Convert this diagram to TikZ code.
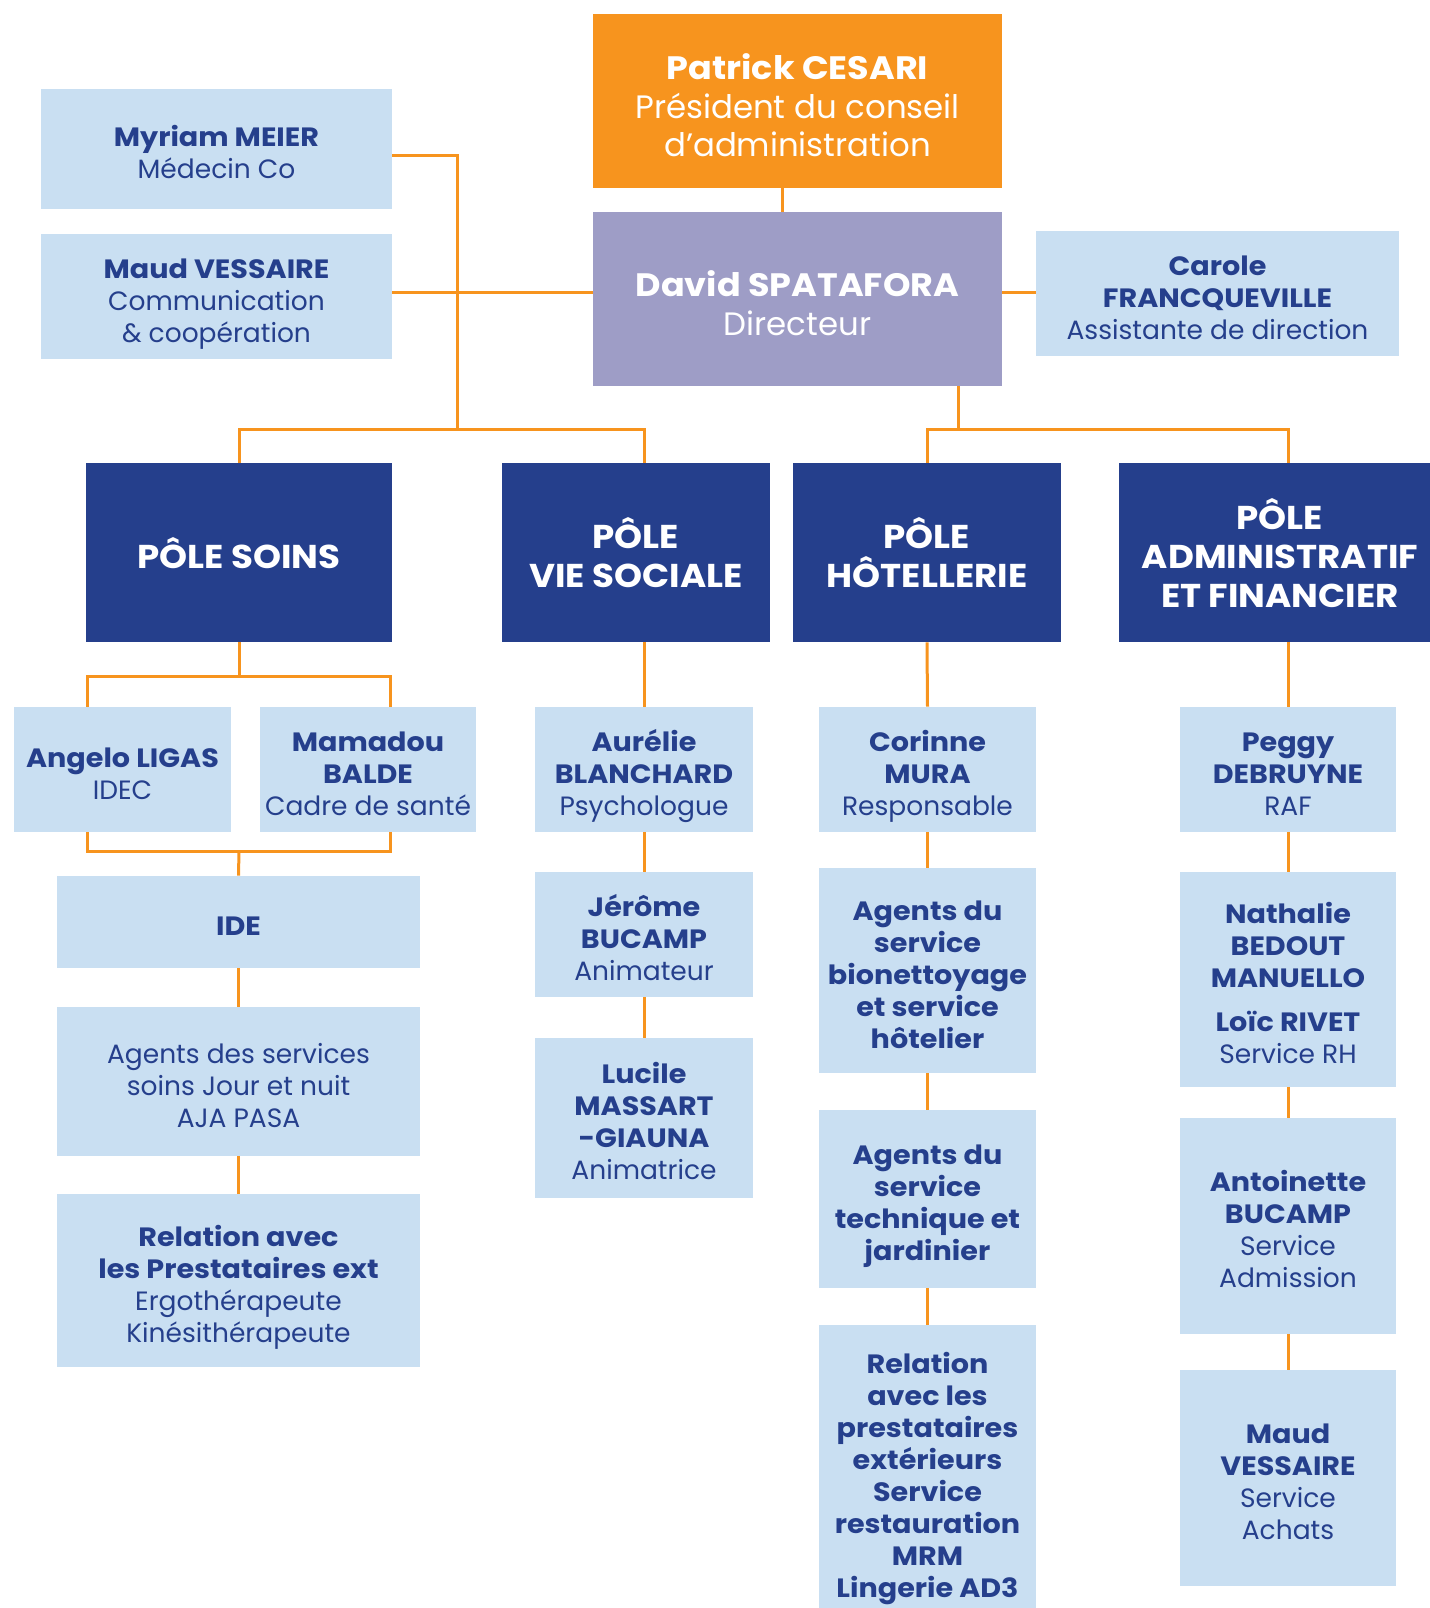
\documentclass[tikz,border=0pt]{standalone}
\usepackage{fontspec}
\setmainfont{Poppins}[BoldFeatures={FakeStretch=1.08}]
\definecolor{orgline}{HTML}{F7941E}
\definecolor{navy}{HTML}{253F8C}
\definecolor{paleblue}{HTML}{C9DFF2}
\definecolor{lilac}{HTML}{9E9DC6}
\newcommand\tp{\rule{0pt}{1.05em}}

\tikzset{
  sz/.style 2 args={minimum width=#1*0.5pt, minimum height=#2*0.5pt},
  box/.style={inner sep=0pt, align=center, text depth=0pt},
  pres/.style={box, fill=orgline, text=white, font=\fontsize{16.2}{19.3}\selectfont},
  dirbox/.style={box, fill=lilac, text=white, font=\fontsize{16.2}{19.3}\selectfont},
  staff/.style={box, fill=paleblue, text=navy, font=\fontsize{13.25}{16}\selectfont\bfseries},
  pole/.style={box, fill=navy, text=white, font=\fontsize{16.5}{19.5}\selectfont\bfseries},
  link/.style={draw=orgline, line width=1.5pt}
}

\begin{document}
\begin{tikzpicture}[x=0.5pt, y=-0.5pt]
  \useasboundingbox (0,0) rectangle (1430,1608);

  % direction
  \node[pres, sz={409}{174}] (cesari) at (797.5,101) {\tp\bfseries Patrick CESARI\\Président du conseil\\d’administration};
  \node[dirbox, sz={409}{174}] (spatafora) at (797.5,299) {\tp\bfseries David SPATAFORA\\Directeur};
  \node[staff, sz={351}{120}] (meier) at (216.5,149) {\tp Myriam MEIER\\\mdseries Médecin Co};
  \node[staff, sz={351}{125}] (vessaire) at (216.5,296.5) {\tp Maud VESSAIRE\\\mdseries Communication\\\mdseries \& coopération};
  \node[staff, sz={363}{125}] (francq) at (1217.5,293.5) {\tp Carole\\FRANCQUEVILLE\\\mdseries Assistante de direction};

  % poles
  \node[pole, sz={306}{179}] (soins) at (239,552.5) {PÔLE SOINS};
  \node[pole, sz={268}{179}] (vie) at (636,552.5) {PÔLE\\VIE SOCIALE};
  \node[pole, sz={268}{179}] (hotel) at (927,552.5) {PÔLE\\HÔTELLERIE};
  \node[pole, sz={322}{179}] (admin) at (1280,552.5) {PÔLE\\ADMINISTRATIF\\ET FINANCIER};

  % pole soins
  \node[staff, sz={217}{125}] (ligas) at (122.5,769.5) {\tp Angelo LIGAS\\\mdseries IDEC};
  \node[staff, sz={216}{125}] (balde) at (368,769.5) {\tp Mamadou\\BALDE\\\mdseries Cadre de santé};
  \node[staff, sz={363}{92}] (ide) at (238.5,922) {\tp IDE};
  \node[staff, sz={363}{149}] (agsoins) at (238.5,1081.5) {\tp\mdseries Agents des services\\\mdseries soins Jour et nuit\\\mdseries AJA PASA};
  \node[staff, sz={363}{173}] (relsoins) at (238.5,1280.5) {\tp Relation avec\\les Prestataires ext\\\mdseries Ergothérapeute\\\mdseries Kinésithérapeute};

  % pole vie sociale
  \node[staff, sz={218}{125}] (blanchard) at (644,769.5) {\tp Aurélie\\BLANCHARD\\\mdseries Psychologue};
  \node[staff, sz={218}{125}] (bucampj) at (644,934.5) {\tp Jérôme\\BUCAMP\\\mdseries Animateur};
  \node[staff, sz={218}{160}] (massart) at (644,1118) {\tp Lucile\\MASSART\\-GIAUNA\\\mdseries Animatrice};

  % pole hotellerie
  \node[staff, sz={217}{125}] (mura) at (927.5,769.5) {\tp Corinne\\MURA\\\mdseries Responsable};
  \node[staff, sz={217}{205}] (agbio) at (927.5,970.5) {\tp Agents du\\service\\bionettoyage\\et service\\hôtelier};
  \node[staff, sz={217}{178}] (agtech) at (927.5,1199) {\tp Agents du\\service\\technique et\\jardinier};
  \node[staff, sz={217}{300}] (relhot) at (927.5,1475) {Relation\\avec les\\prestataires\\extérieurs\\Service\\restauration\\MRM\\Lingerie AD3};

  % pole administratif
  \node[staff, sz={216}{125}] (debruyne) at (1288,769.5) {\tp Peggy\\DEBRUYNE\\\mdseries RAF};
  \node[staff, sz={216}{215}] (bedout) at (1288,979.5) {\tp Nathalie\\BEDOUT\\MANUELLO\\[6pt]Loïc RIVET\\\mdseries Service RH};
  \node[staff, sz={216}{216}] (bucampa) at (1288,1226) {\tp Antoinette\\BUCAMP\\\mdseries Service\\\mdseries Admission};
  \node[staff, sz={216}{216}] (achats) at (1288,1478) {\tp Maud\\VESSAIRE\\\mdseries Service\\\mdseries Achats};

  % junctions
  \coordinate (jtop) at (782,200);
  \coordinate (jmeier) at (457,155);
  \coordinate (jdir) at (457,292);
  \coordinate (jleft) at (457,429);
  \coordinate (jright) at (958,429);
  \coordinate (jsoins) at (239,676);
  \coordinate (bl) at (87,676);
  \coordinate (br) at (390,676);
  \coordinate (bl2) at (87,851);
  \coordinate (br2) at (390,851);
  \coordinate (jide) at (239,851);

  \draw[link] (cesari.south -| jtop) -- (spatafora.north -| jtop);
  \draw[link] (meier.east |- jmeier) -- (jmeier) -- (jleft);
  \draw[link] (vessaire.east |- jdir) -- (spatafora.west |- jdir);
  \draw[link] (spatafora.east |- jdir) -- (francq.west |- jdir);
  \draw[link] (soins.north) |- (jleft) -| (blanchard |- vie.north);
  \draw[link] (spatafora.south -| jright) -- (jright);
  \draw[link] (hotel.north) |- (jright) -| (debruyne |- admin.north);

  \draw[link] (soins.south) -- (jsoins);
  \draw[link] (ligas.north -| bl) -- (bl) -- (br) -- (balde.north -| br);
  \draw[link] (ligas.south -| bl2) -- (bl2) -- (br2) -- (balde.south -| br2);
  \draw[link] (jide) -- (ide.north);
  \draw[link] (ide.south) -- (agsoins.north);
  \draw[link] (agsoins.south) -- (relsoins.north);

  \draw[link] (vie.south -| blanchard) -- (blanchard.north);
  \draw[link] (blanchard.south) -- (bucampj.north);
  \draw[link] (bucampj.south) -- (massart.north);

  \draw[link] (hotel.south) -- (mura.north);
  \draw[link] (mura.south) -- (agbio.north);
  \draw[link] (agbio.south) -- (agtech.north);
  \draw[link] (agtech.south) -- (relhot.north);

  \draw[link] (admin.south -| debruyne) -- (debruyne.north);
  \draw[link] (debruyne.south) -- (bedout.north);
  \draw[link] (bedout.south) -- (bucampa.north);
  \draw[link] (bucampa.south) -- (achats.north);
\end{tikzpicture}
\end{document}
